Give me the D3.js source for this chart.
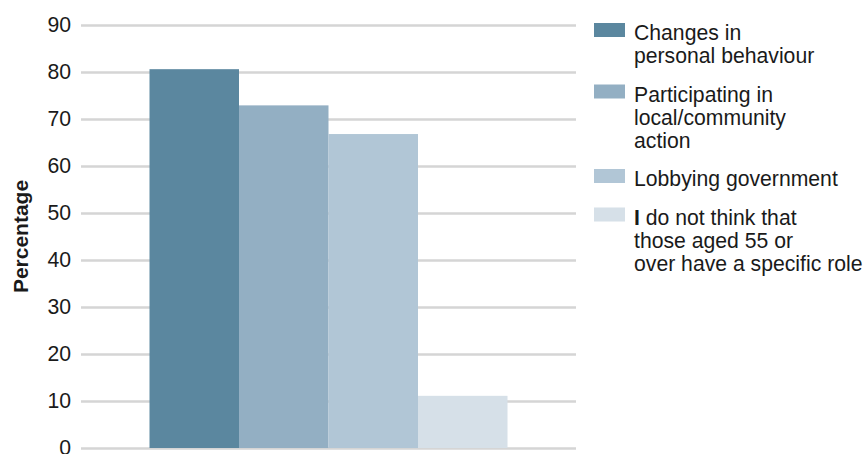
<!DOCTYPE html>
<html>
<head>
<meta charset="utf-8">
<script src="https://cdn.jsdelivr.net/npm/d3@7"></script>
<style>
  html, body { margin: 0; padding: 0; background: #fff; }
  svg { display: block; font-family: "Liberation Sans", Arial, sans-serif; }
</style>
</head>
<body>
<svg id="chart" width="866" height="454"></svg>
<script>
// Share of respondents choosing each role for people aged 55 and over
const seriesNames = [
  "Changes in personal behaviour",
  "Participating in local/community action",
  "Lobbying government",
  "I do not think that those aged 55 or over have a specific role"
];
const seriesValues = [80.6, 72.9, 66.8, 11.1];
const seriesColors = ["#5b879f", "#93afc3", "#b1c6d6", "#d6e0e8"];
// Legend labels broken into lines
const legendLines = [
  ["Changes in", "personal behaviour"],
  ["Participating in", "local/community", "action"],
  ["Lobbying government"],
  ["I do not think that", "those aged 55 or", "over have a specific role"]
];
const yTicks = [0, 10, 20, 30, 40, 50, 60, 70, 80, 90];
const yTitle = "Percentage";

const svg = d3.select("#chart");
const plot = { left: 81, right: 576, top: 25, bottom: 448 };
const fontSize = "21.2px";

const y = d3.scaleLinear().domain([0, 90]).range([plot.bottom, plot.top]);

// One category holding all four series side by side
const groupWidth = 358;
const groupLeft = (plot.left + plot.right) / 2 - groupWidth / 2;
const x = d3.scaleBand()
  .domain(seriesNames)
  .range([groupLeft, groupLeft + groupWidth])
  .padding(0);

// Gridlines and tick labels
const axis = svg.append("g")
  .attr("transform", `translate(${plot.left},0)`)
  .call(d3.axisLeft(y)
    .tickValues(yTicks)
    .tickSize(-(plot.right - plot.left))
    .tickPadding(10)
    .tickFormat(d3.format("d")));
axis.select(".domain").remove();
axis.selectAll(".tick line")
  .attr("stroke", "#d5d5d5")
  .attr("stroke-width", 2.4);
axis.selectAll(".tick text")
  .attr("fill", "#1a1a1a")
  .attr("font-size", fontSize)
  .attr("font-family", "Liberation Sans, Arial, sans-serif");

// Bars
svg.append("g")
  .selectAll("rect")
  .data(seriesNames.map((name, i) => ({ name, value: seriesValues[i], color: seriesColors[i] })))
  .join("rect")
  .attr("x", d => x(d.name))
  .attr("y", d => y(d.value))
  .attr("width", x.bandwidth())
  .attr("height", d => y(0) - y(d.value))
  .attr("fill", d => d.color);

// Y axis title
svg.append("text")
  .attr("transform", `translate(28,${(plot.top + plot.bottom) / 2}) rotate(-90)`)
  .attr("text-anchor", "middle")
  .attr("font-size", "21px")
  .attr("font-weight", "bold")
  .attr("fill", "#1a1a1a")
  .text(yTitle);

// Legend
const legend = svg.append("g");
const lineHeight = 23;
const itemGap = 15.5;
let baseline = 40;
legendLines.forEach((lines, i) => {
  const item = legend.append("g");
  item.append("rect")
    .attr("x", 594)
    .attr("y", baseline - 17)
    .attr("width", 31)
    .attr("height", 14)
    .attr("fill", seriesColors[i]);
  const t = item.append("text")
    .attr("x", 634)
    .attr("y", baseline)
    .attr("font-size", fontSize)
    .attr("fill", "#1a1a1a");
  lines.forEach((line, j) => {
    const span = t.append("tspan")
      .attr("x", 634)
      .attr("dy", j === 0 ? 0 : lineHeight);
    if (line.startsWith("I ")) {
      // the leading pronoun is set heavier
      span.append("tspan").attr("font-weight", "bold").text("I");
      span.append("tspan").text(line.slice(1));
    } else {
      span.text(line);
    }
  });
  baseline += lines.length * lineHeight + itemGap;
});
</script>
</body>
</html>
